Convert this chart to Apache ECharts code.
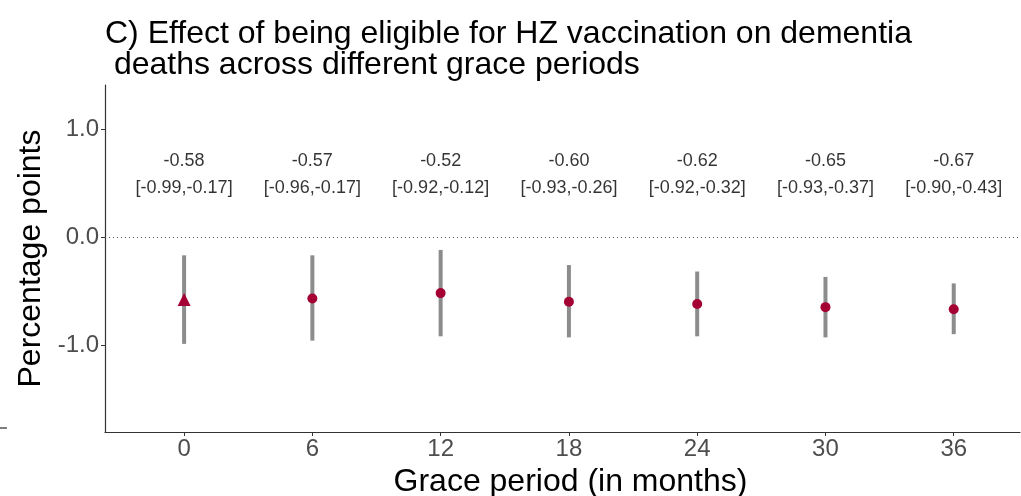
<!DOCTYPE html>
<html>
<head>
<meta charset="utf-8">
<script src="https://cdn.jsdelivr.net/npm/echarts@6/dist/echarts.min.js"></script>
<style>
  html, body { margin: 0; padding: 0; background: #fff; }
  #chart { width: 1021px; height: 496px; }
</style>
</head>
<body>
<div id="chart"></div>
<script>
// grace periods (months) and estimates with 95% CI
var grace = [0, 6, 12, 18, 24, 30, 36];
var est = [-0.58, -0.57, -0.52, -0.60, -0.62, -0.65, -0.67];
var lower = [-0.99, -0.96, -0.92, -0.93, -0.92, -0.93, -0.90];
var upper = [-0.17, -0.17, -0.12, -0.26, -0.32, -0.37, -0.43];
var yTicks = [-1, 0, 1];

var chart = echarts.init(document.getElementById('chart'));
var font = 'Liberation Sans, Arial, sans-serif';
var markColor = '#a50034';
var labelY = 0.575; // where the estimate text sits

chart.setOption({
  animation: false,
  textStyle: { fontFamily: font },
  title: {
    text: 'C) Effect of being eligible for HZ vaccination on dementia\n deaths across different grace periods',
    left: 100,
    top: 14,
    textStyle: { fontSize: 32, fontWeight: 'normal', color: '#000', lineHeight: 31, fontFamily: font }
  },
  grid: { left: 105, right: 1, top: 85, bottom: 64, outerBoundsMode: 'none' },
  xAxis: {
    type: 'value',
    min: -3.7,
    max: 39.1,
    name: 'Grace period (in months)',
    nameLocation: 'middle',
    nameGap: 32,
    nameTextStyle: { fontSize: 32, color: '#000', fontFamily: font, padding: [0, 0, 0, 16] },
    axisLine: { onZero: false, lineStyle: { color: '#333', width: 1.2 } },
    axisTick: { show: true, length: 4, customValues: grace, lineStyle: { color: '#333' } },
    axisLabel: { customValues: grace, fontSize: 24, color: '#4d4d4d', margin: 5, fontFamily: font },
    splitLine: { show: false }
  },
  yAxis: {
    type: 'value',
    min: -1.806,
    max: 1.407,
    name: 'Percentage points',
    nameLocation: 'middle',
    nameGap: 58,
    nameTextStyle: { fontSize: 32, color: '#000', fontFamily: font },
    axisLine: { show: true, onZero: false, lineStyle: { color: '#333', width: 1.2 } },
    axisTick: { show: true, length: 4, customValues: yTicks, lineStyle: { color: '#333' } },
    axisLabel: {
      customValues: yTicks, fontSize: 24, color: '#4d4d4d', margin: 6, fontFamily: font,
      formatter: function (v) { return v.toFixed(1); }
    },
    splitLine: { show: false }
  },
  series: [
    {
      type: 'custom',
      data: grace.map(function (g, i) { return [g, lower[i], upper[i]]; }),
      renderItem: function (params, api) {
        var a = api.coord([api.value(0), api.value(1)]);
        var b = api.coord([api.value(0), api.value(2)]);
        return {
          type: 'line',
          shape: { x1: a[0], y1: a[1], x2: b[0], y2: b[1] },
          style: { stroke: '#8c8c8c', lineWidth: 4 }
        };
      },
      markLine: {
        silent: true,
        symbol: 'none',
        label: { show: false },
        lineStyle: { type: [1, 3], color: '#555', width: 1 },
        data: [{ yAxis: 0 }]
      },
      z: 2
    },
    {
      type: 'scatter',
      data: grace.map(function (g, i) {
        return {
          value: [g, est[i]],
          symbol: i === 0 ? 'triangle' : 'circle',
          symbolSize: i === 0 ? 13 : 10
        };
      }),
      itemStyle: { color: markColor, opacity: 1 },
      z: 3
    },
    {
      type: 'scatter',
      symbolSize: 0,
      data: grace.map(function (g, i) { return [g, labelY, i]; }),
      label: {
        show: true,
        position: 'inside',
        fontSize: 18,
        color: '#000',
        lineHeight: 27,
        fontFamily: font,
        formatter: function (p) {
          var i = p.value[2];
          return est[i].toFixed(2) + '\n[' + lower[i].toFixed(2) + ',' + upper[i].toFixed(2) + ']';
        }
      },
      z: 4
    }
  ],
  graphic: [
    { type: 'line', shape: { x1: 0, y1: 428, x2: 7, y2: 428 }, style: { stroke: '#000', lineWidth: 1 } }
  ]
});
</script>
</body>
</html>
